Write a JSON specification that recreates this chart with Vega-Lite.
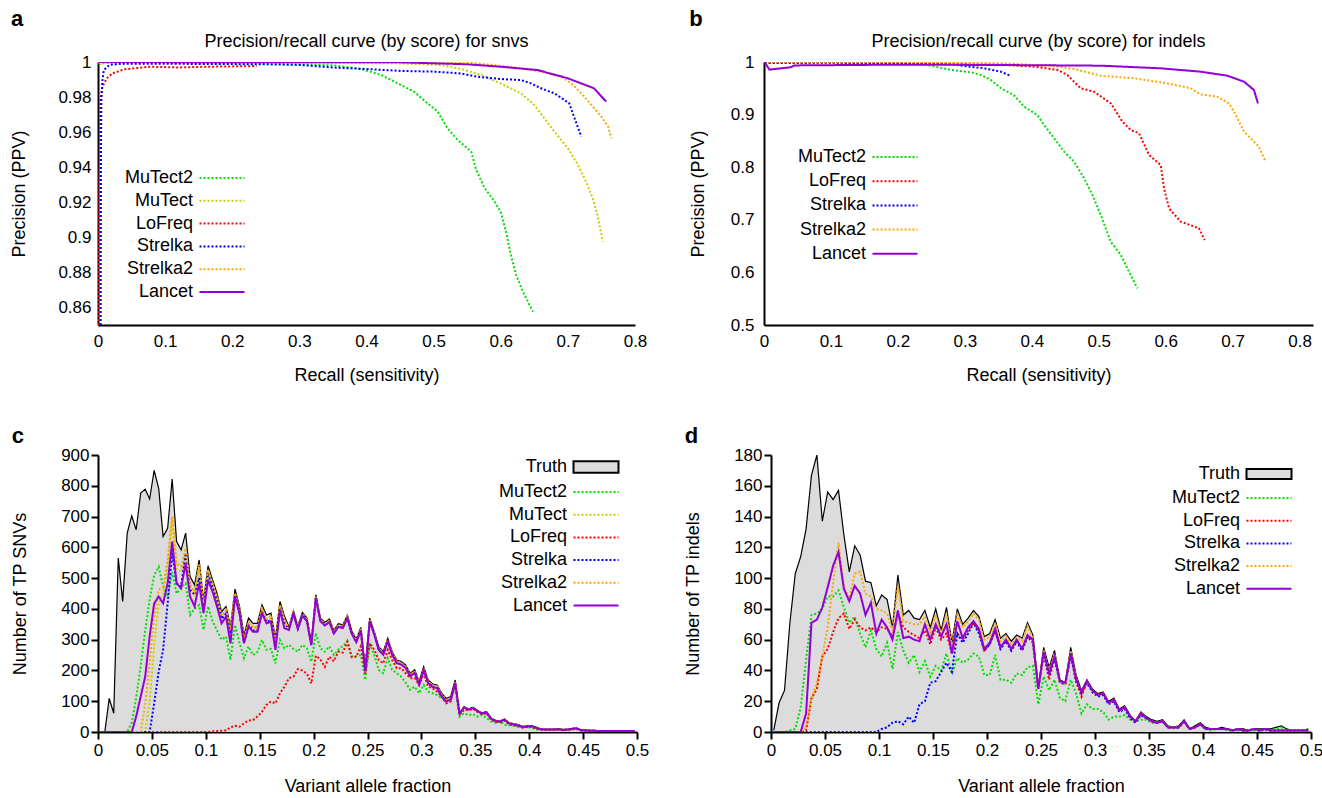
{
"$schema":"https://vega.github.io/schema/vega-lite/v6.json",
"padding":{"left":10,"top":8,"right":5,"bottom":3},
"config":{
 "font":"Liberation Sans",
 "view":{"stroke":null},
 "axis":{"grid":false,"domainColor":"black","domainWidth":2,"labelColor":"black","titleColor":"black","labelFontSize":17,"titleFontSize":18,"titleFontWeight":"normal","labelFlush":false,"labelOverlap":false,"tickColor":"black","tickWidth":2},
 "legend":{"labelFontSize":18,"labelColor":"black","padding":0},
 "title":{"fontSize":18,"fontWeight":"normal","color":"black"}
},
"datasets":{
"pra":[
{"t":"MuTect2","r":0.001,"p":0.9985},{"t":"MuTect2","r":0.01,"p":0.9994},{"t":"MuTect2","r":0.05,"p":0.9995},{"t":"MuTect2","r":0.1,"p":0.9995},{"t":"MuTect2","r":0.2,"p":0.9993},{"t":"MuTect2","r":0.3,"p":0.9987},{"t":"MuTect2","r":0.352,"p":0.998},{"t":"MuTect2","r":0.392,"p":0.996},{"t":"MuTect2","r":0.422,"p":0.9926},{"t":"MuTect2","r":0.451,"p":0.9869},{"t":"MuTect2","r":0.471,"p":0.983},{"t":"MuTect2","r":0.491,"p":0.9764},{"t":"MuTect2","r":0.506,"p":0.9717},{"t":"MuTect2","r":0.521,"p":0.962},{"t":"MuTect2","r":0.536,"p":0.9555},{"t":"MuTect2","r":0.556,"p":0.9489},{"t":"MuTect2","r":0.563,"p":0.939},{"t":"MuTect2","r":0.576,"p":0.928},{"t":"MuTect2","r":0.588,"p":0.922},{"t":"MuTect2","r":0.6,"p":0.9146},{"t":"MuTect2","r":0.608,"p":0.903},{"t":"MuTect2","r":0.615,"p":0.89},{"t":"MuTect2","r":0.623,"p":0.8785},{"t":"MuTect2","r":0.633,"p":0.869},{"t":"MuTect2","r":0.648,"p":0.8576},
{"t":"MuTect","r":0.001,"p":0.9995},{"t":"MuTect","r":0.1,"p":0.9998},{"t":"MuTect","r":0.3,"p":0.9996},{"t":"MuTect","r":0.451,"p":0.9992},{"t":"MuTect","r":0.511,"p":0.9983},{"t":"MuTect","r":0.541,"p":0.996},{"t":"MuTect","r":0.571,"p":0.9926},{"t":"MuTect","r":0.6,"p":0.9878},{"t":"MuTect","r":0.63,"p":0.9821},{"t":"MuTect","r":0.65,"p":0.9755},{"t":"MuTect","r":0.665,"p":0.9679},{"t":"MuTect","r":0.68,"p":0.9603},{"t":"MuTect","r":0.7,"p":0.9508},{"t":"MuTect","r":0.715,"p":0.9413},{"t":"MuTect","r":0.727,"p":0.9318},{"t":"MuTect","r":0.737,"p":0.9223},{"t":"MuTect","r":0.744,"p":0.9127},{"t":"MuTect","r":0.749,"p":0.9032},{"t":"MuTect","r":0.752,"p":0.8975},
{"t":"LoFreq","r":0.001,"p":0.85},{"t":"LoFreq","r":0.002,"p":0.93},{"t":"LoFreq","r":0.0036,"p":0.9783},{"t":"LoFreq","r":0.0066,"p":0.9859},{"t":"LoFreq","r":0.013,"p":0.9907},{"t":"LoFreq","r":0.0215,"p":0.9935},{"t":"LoFreq","r":0.0385,"p":0.9958},{"t":"LoFreq","r":0.077,"p":0.9973},{"t":"LoFreq","r":0.119,"p":0.9969},{"t":"LoFreq","r":0.162,"p":0.9973},{"t":"LoFreq","r":0.2365,"p":0.9977},
{"t":"Strelka","r":0.004,"p":0.85},{"t":"Strelka","r":0.0045,"p":0.95},{"t":"Strelka","r":0.005,"p":0.978},{"t":"Strelka","r":0.0066,"p":0.9897},{"t":"Strelka","r":0.0087,"p":0.9954},{"t":"Strelka","r":0.017,"p":0.9983},{"t":"Strelka","r":0.034,"p":0.999},{"t":"Strelka","r":0.1,"p":0.999},{"t":"Strelka","r":0.2,"p":0.9988},{"t":"Strelka","r":0.25,"p":0.9987},{"t":"Strelka","r":0.302,"p":0.9983},{"t":"Strelka","r":0.352,"p":0.9968},{"t":"Strelka","r":0.401,"p":0.996},{"t":"Strelka","r":0.451,"p":0.9949},{"t":"Strelka","r":0.501,"p":0.9945},{"t":"Strelka","r":0.54,"p":0.9935},{"t":"Strelka","r":0.565,"p":0.9916},{"t":"Strelka","r":0.6,"p":0.9903},{"t":"Strelka","r":0.63,"p":0.9897},{"t":"Strelka","r":0.645,"p":0.9878},{"t":"Strelka","r":0.66,"p":0.985},{"t":"Strelka","r":0.68,"p":0.9821},{"t":"Strelka","r":0.695,"p":0.9783},{"t":"Strelka","r":0.702,"p":0.9764},{"t":"Strelka","r":0.71,"p":0.9679},{"t":"Strelka","r":0.72,"p":0.9574},
{"t":"Strelka2","r":0.001,"p":1},{"t":"Strelka2","r":0.3,"p":1},{"t":"Strelka2","r":0.55,"p":0.9998},{"t":"Strelka2","r":0.625,"p":0.9968},{"t":"Strelka2","r":0.66,"p":0.9945},{"t":"Strelka2","r":0.69,"p":0.9916},{"t":"Strelka2","r":0.705,"p":0.9878},{"t":"Strelka2","r":0.72,"p":0.9821},{"t":"Strelka2","r":0.735,"p":0.9755},{"t":"Strelka2","r":0.75,"p":0.9688},{"t":"Strelka2","r":0.76,"p":0.9631},{"t":"Strelka2","r":0.765,"p":0.9565},
{"t":"Lancet","r":0.001,"p":1},{"t":"Lancet","r":0.3,"p":0.9998},{"t":"Lancet","r":0.451,"p":0.9998},{"t":"Lancet","r":0.55,"p":0.9987},{"t":"Lancet","r":0.6,"p":0.9973},{"t":"Lancet","r":0.655,"p":0.9954},{"t":"Lancet","r":0.7,"p":0.9907},{"t":"Lancet","r":0.739,"p":0.985},{"t":"Lancet","r":0.757,"p":0.9774}
],
"prb":[
{"t":"MuTect2","r":0.001,"p":0.999},{"t":"MuTect2","r":0.05,"p":0.9995},{"t":"MuTect2","r":0.1,"p":0.9995},{"t":"MuTect2","r":0.15,"p":0.9993},{"t":"MuTect2","r":0.2045,"p":0.9985},{"t":"MuTect2","r":0.239,"p":0.9956},{"t":"MuTect2","r":0.279,"p":0.985},{"t":"MuTect2","r":0.309,"p":0.9804},{"t":"MuTect2","r":0.324,"p":0.9753},{"t":"MuTect2","r":0.339,"p":0.9658},{"t":"MuTect2","r":0.354,"p":0.95},{"t":"MuTect2","r":0.373,"p":0.9373},{"t":"MuTect2","r":0.3886,"p":0.915},{"t":"MuTect2","r":0.4085,"p":0.899},{"t":"MuTect2","r":0.4184,"p":0.88},{"t":"MuTect2","r":0.4333,"p":0.855},{"t":"MuTect2","r":0.4483,"p":0.8295},{"t":"MuTect2","r":0.4632,"p":0.8105},{"t":"MuTect2","r":0.4781,"p":0.779},{"t":"MuTect2","r":0.4906,"p":0.747},{"t":"MuTect2","r":0.503,"p":0.709},{"t":"MuTect2","r":0.518,"p":0.658},{"t":"MuTect2","r":0.533,"p":0.633},{"t":"MuTect2","r":0.5453,"p":0.601},{"t":"MuTect2","r":0.5577,"p":0.5697},
{"t":"LoFreq","r":0.001,"p":1},{"t":"LoFreq","r":0.1,"p":0.9995},{"t":"LoFreq","r":0.2045,"p":0.9994},{"t":"LoFreq","r":0.3437,"p":0.9956},{"t":"LoFreq","r":0.4035,"p":0.9911},{"t":"LoFreq","r":0.4383,"p":0.985},{"t":"LoFreq","r":0.4532,"p":0.9753},{"t":"LoFreq","r":0.4731,"p":0.95},{"t":"LoFreq","r":0.493,"p":0.9436},{"t":"LoFreq","r":0.518,"p":0.9214},{"t":"LoFreq","r":0.5353,"p":0.8866},{"t":"LoFreq","r":0.5478,"p":0.8707},{"t":"LoFreq","r":0.5602,"p":0.8644},{"t":"LoFreq","r":0.5751,"p":0.8232},{"t":"LoFreq","r":0.5925,"p":0.8042},{"t":"LoFreq","r":0.5975,"p":0.7598},{"t":"LoFreq","r":0.605,"p":0.7218},{"t":"LoFreq","r":0.6224,"p":0.6965},{"t":"LoFreq","r":0.6498,"p":0.6838},{"t":"LoFreq","r":0.6582,"p":0.6616},
{"t":"Strelka","r":0.001,"p":0.998},{"t":"Strelka","r":0.1,"p":0.9985},{"t":"Strelka","r":0.2045,"p":0.9975},{"t":"Strelka","r":0.279,"p":0.9956},{"t":"Strelka","r":0.3288,"p":0.988},{"t":"Strelka","r":0.3537,"p":0.9816},{"t":"Strelka","r":0.3677,"p":0.974},
{"t":"Strelka2","r":0.001,"p":1},{"t":"Strelka2","r":0.2045,"p":1},{"t":"Strelka2","r":0.354,"p":0.9975},{"t":"Strelka2","r":0.4284,"p":0.993},{"t":"Strelka2","r":0.4632,"p":0.9867},{"t":"Strelka2","r":0.503,"p":0.974},{"t":"Strelka2","r":0.5527,"p":0.969},{"t":"Strelka2","r":0.6025,"p":0.9594},{"t":"Strelka2","r":0.6373,"p":0.95},{"t":"Strelka2","r":0.6522,"p":0.9385},{"t":"Strelka2","r":0.677,"p":0.934},{"t":"Strelka2","r":0.6945,"p":0.9214},{"t":"Strelka2","r":0.702,"p":0.9056},{"t":"Strelka2","r":0.7169,"p":0.8676},{"t":"Strelka2","r":0.7393,"p":0.839},{"t":"Strelka2","r":0.7493,"p":0.8105},
{"t":"Lancet","r":0.001,"p":1},{"t":"Lancet","r":0.008,"p":0.9855},{"t":"Lancet","r":0.04,"p":0.99},{"t":"Lancet","r":0.045,"p":0.9935},{"t":"Lancet","r":0.2045,"p":0.995},{"t":"Lancet","r":0.354,"p":0.9943},{"t":"Lancet","r":0.503,"p":0.993},{"t":"Lancet","r":0.5925,"p":0.988},{"t":"Lancet","r":0.6522,"p":0.9816},{"t":"Lancet","r":0.692,"p":0.974},{"t":"Lancet","r":0.7169,"p":0.9626},{"t":"Lancet","r":0.7318,"p":0.9468},{"t":"Lancet","r":0.7378,"p":0.9214}
],
"vafc":[
{"x":0.0021,"Truth":0,"MuTect2":0,"MuTect":0,"LoFreq":0,"Strelka":0,"Strelka2":0,"Lancet":0},
{"x":0.0063,"Truth":0,"MuTect2":0,"MuTect":0,"LoFreq":0,"Strelka":0,"Strelka2":0,"Lancet":0},
{"x":0.0104,"Truth":109,"MuTect2":0,"MuTect":0,"LoFreq":0,"Strelka":0,"Strelka2":0,"Lancet":0},
{"x":0.0146,"Truth":61,"MuTect2":0,"MuTect":0,"LoFreq":0,"Strelka":0,"Strelka2":0,"Lancet":0},
{"x":0.0188,"Truth":565,"MuTect2":0,"MuTect":0,"LoFreq":0,"Strelka":0,"Strelka2":0,"Lancet":0},
{"x":0.0229,"Truth":424,"MuTect2":0,"MuTect":0,"LoFreq":0,"Strelka":0,"Strelka2":0,"Lancet":0},
{"x":0.0271,"Truth":646,"MuTect2":0,"MuTect":0,"LoFreq":0,"Strelka":0,"Strelka2":0,"Lancet":0},
{"x":0.0313,"Truth":702,"MuTect2":30,"MuTect":0,"LoFreq":0,"Strelka":0,"Strelka2":0,"Lancet":0},
{"x":0.0354,"Truth":657,"MuTect2":110,"MuTect":0,"LoFreq":0,"Strelka":0,"Strelka2":0,"Lancet":50},
{"x":0.0396,"Truth":776,"MuTect2":215,"MuTect":0,"LoFreq":0,"Strelka":0,"Strelka2":0,"Lancet":115},
{"x":0.0438,"Truth":789,"MuTect2":330,"MuTect":0,"LoFreq":0,"Strelka":0,"Strelka2":93,"Lancet":180},
{"x":0.0479,"Truth":757,"MuTect2":430,"MuTect":100,"LoFreq":0,"Strelka":0,"Strelka2":223,"Lancet":310},
{"x":0.0521,"Truth":850,"MuTect2":510,"MuTect":280,"LoFreq":0,"Strelka":93,"Strelka2":375,"Lancet":418},
{"x":0.0563,"Truth":792,"MuTect2":537,"MuTect":420,"LoFreq":0,"Strelka":196,"Strelka2":462,"Lancet":440},
{"x":0.0604,"Truth":635,"MuTect2":473,"MuTect":450,"LoFreq":0,"Strelka":267,"Strelka2":473,"Lancet":418},
{"x":0.0646,"Truth":662,"MuTect2":440,"MuTect":540,"LoFreq":0,"Strelka":418,"Strelka2":559,"Lancet":483},
{"x":0.0688,"Truth":822,"MuTect2":520,"MuTect":690,"LoFreq":0,"Strelka":581,"Strelka2":700,"Lancet":619},
{"x":0.0729,"Truth":619,"MuTect2":450,"MuTect":530,"LoFreq":0,"Strelka":483,"Strelka2":548,"Lancet":483},
{"x":0.0771,"Truth":592,"MuTect2":470,"MuTect":520,"LoFreq":0,"Strelka":473,"Strelka2":538,"Lancet":467},
{"x":0.0813,"Truth":646,"MuTect2":483,"MuTect":590,"LoFreq":0,"Strelka":581,"Strelka2":597,"Lancet":548},
{"x":0.0854,"Truth":505,"MuTect2":380,"MuTect":470,"LoFreq":0,"Strelka":462,"Strelka2":480,"Lancet":440},
{"x":0.0896,"Truth":478,"MuTect2":400,"MuTect":450,"LoFreq":0,"Strelka":446,"Strelka2":455,"Lancet":408},
{"x":0.0938,"Truth":559,"MuTect2":412,"MuTect":535,"LoFreq":0,"Strelka":500,"Strelka2":545,"Lancet":483},
{"x":0.0979,"Truth":429,"MuTect2":332,"MuTect":410,"LoFreq":0,"Strelka":405,"Strelka2":417,"Lancet":386},
{"x":0.1021,"Truth":540,"MuTect2":408,"MuTect":525,"LoFreq":0,"Strelka":515,"Strelka2":528,"Lancet":494},
{"x":0.1063,"Truth":494,"MuTect2":360,"MuTect":479,"LoFreq":2,"Strelka":470,"Strelka2":482,"Lancet":456},
{"x":0.1104,"Truth":451,"MuTect2":330,"MuTect":436,"LoFreq":3,"Strelka":428,"Strelka2":439,"Lancet":408},
{"x":0.1146,"Truth":391,"MuTect2":300,"MuTect":376,"LoFreq":4,"Strelka":368,"Strelka2":379,"Lancet":353},
{"x":0.1188,"Truth":408,"MuTect2":310,"MuTect":393,"LoFreq":5,"Strelka":385,"Strelka2":396,"Lancet":375},
{"x":0.1229,"Truth":343,"MuTect2":234,"MuTect":328,"LoFreq":15,"Strelka":320,"Strelka2":331,"Lancet":288},
{"x":0.1271,"Truth":464,"MuTect2":348,"MuTect":449,"LoFreq":20,"Strelka":442,"Strelka2":452,"Lancet":440},
{"x":0.1313,"Truth":408,"MuTect2":290,"MuTect":393,"LoFreq":17,"Strelka":385,"Strelka2":396,"Lancet":386},
{"x":0.1354,"Truth":315,"MuTect2":240,"MuTect":300,"LoFreq":28,"Strelka":292,"Strelka2":303,"Lancet":288},
{"x":0.1396,"Truth":370,"MuTect2":278,"MuTect":355,"LoFreq":37,"Strelka":348,"Strelka2":358,"Lancet":343},
{"x":0.1438,"Truth":353,"MuTect2":250,"MuTect":338,"LoFreq":39,"Strelka":330,"Strelka2":341,"Lancet":326},
{"x":0.1479,"Truth":353,"MuTect2":260,"MuTect":338,"LoFreq":50,"Strelka":330,"Strelka2":341,"Lancet":326},
{"x":0.1521,"Truth":413,"MuTect2":299,"MuTect":398,"LoFreq":66,"Strelka":390,"Strelka2":401,"Lancet":386},
{"x":0.1563,"Truth":380,"MuTect2":267,"MuTect":365,"LoFreq":88,"Strelka":358,"Strelka2":368,"Lancet":353},
{"x":0.1604,"Truth":386,"MuTect2":270,"MuTect":371,"LoFreq":99,"Strelka":363,"Strelka2":374,"Lancet":359},
{"x":0.1646,"Truth":305,"MuTect2":223,"MuTect":290,"LoFreq":93,"Strelka":282,"Strelka2":293,"Lancet":267},
{"x":0.1688,"Truth":424,"MuTect2":299,"MuTect":409,"LoFreq":126,"Strelka":402,"Strelka2":412,"Lancet":397},
{"x":0.1729,"Truth":377,"MuTect2":272,"MuTect":362,"LoFreq":147,"Strelka":355,"Strelka2":365,"Lancet":337},
{"x":0.1771,"Truth":342,"MuTect2":283,"MuTect":335,"LoFreq":175,"Strelka":334,"Strelka2":337,"Lancet":332},
{"x":0.1813,"Truth":394,"MuTect2":270,"MuTect":387,"LoFreq":180,"Strelka":386,"Strelka2":389,"Lancet":384},
{"x":0.1854,"Truth":345,"MuTect2":261,"MuTect":338,"LoFreq":204,"Strelka":337,"Strelka2":340,"Lancet":335},
{"x":0.1896,"Truth":388,"MuTect2":283,"MuTect":381,"LoFreq":200,"Strelka":380,"Strelka2":383,"Lancet":378},
{"x":0.1938,"Truth":370,"MuTect2":272,"MuTect":363,"LoFreq":190,"Strelka":362,"Strelka2":365,"Lancet":360},
{"x":0.1979,"Truth":292,"MuTect2":228,"MuTect":285,"LoFreq":158,"Strelka":284,"Strelka2":287,"Lancet":282},
{"x":0.2021,"Truth":446,"MuTect2":321,"MuTect":439,"LoFreq":248,"Strelka":438,"Strelka2":441,"Lancet":436},
{"x":0.2063,"Truth":370,"MuTect2":272,"MuTect":363,"LoFreq":235,"Strelka":362,"Strelka2":365,"Lancet":360},
{"x":0.2104,"Truth":356,"MuTect2":261,"MuTect":349,"LoFreq":212,"Strelka":348,"Strelka2":351,"Lancet":346},
{"x":0.2146,"Truth":367,"MuTect2":278,"MuTect":360,"LoFreq":245,"Strelka":359,"Strelka2":362,"Lancet":357},
{"x":0.2188,"Truth":330,"MuTect2":250,"MuTect":323,"LoFreq":230,"Strelka":322,"Strelka2":325,"Lancet":320},
{"x":0.2229,"Truth":352,"MuTect2":267,"MuTect":345,"LoFreq":261,"Strelka":344,"Strelka2":347,"Lancet":342},
{"x":0.2271,"Truth":348,"MuTect2":280,"MuTect":341,"LoFreq":258,"Strelka":340,"Strelka2":343,"Lancet":338},
{"x":0.2313,"Truth":380,"MuTect2":294,"MuTect":373,"LoFreq":294,"Strelka":372,"Strelka2":375,"Lancet":370},
{"x":0.2354,"Truth":329,"MuTect2":245,"MuTect":322,"LoFreq":243,"Strelka":321,"Strelka2":324,"Lancet":319},
{"x":0.2396,"Truth":302,"MuTect2":245,"MuTect":295,"LoFreq":245,"Strelka":294,"Strelka2":297,"Lancet":292},
{"x":0.2438,"Truth":340,"MuTect2":250,"MuTect":333,"LoFreq":278,"Strelka":332,"Strelka2":335,"Lancet":330},
{"x":0.2479,"Truth":207,"MuTect2":169,"MuTect":200,"LoFreq":191,"Strelka":199,"Strelka2":202,"Lancet":197},
{"x":0.2521,"Truth":370,"MuTect2":288,"MuTect":363,"LoFreq":288,"Strelka":362,"Strelka2":365,"Lancet":360},
{"x":0.2563,"Truth":326,"MuTect2":250,"MuTect":319,"LoFreq":267,"Strelka":318,"Strelka2":321,"Lancet":316},
{"x":0.2604,"Truth":277,"MuTect2":202,"MuTect":270,"LoFreq":234,"Strelka":269,"Strelka2":272,"Lancet":267},
{"x":0.2646,"Truth":261,"MuTect2":191,"MuTect":254,"LoFreq":223,"Strelka":253,"Strelka2":256,"Lancet":251},
{"x":0.2688,"Truth":305,"MuTect2":240,"MuTect":298,"LoFreq":267,"Strelka":297,"Strelka2":300,"Lancet":295},
{"x":0.2729,"Truth":261,"MuTect2":202,"MuTect":254,"LoFreq":234,"Strelka":253,"Strelka2":256,"Lancet":251},
{"x":0.2771,"Truth":234,"MuTect2":191,"MuTect":227,"LoFreq":207,"Strelka":226,"Strelka2":229,"Lancet":224},
{"x":0.2813,"Truth":229,"MuTect2":180,"MuTect":222,"LoFreq":207,"Strelka":221,"Strelka2":224,"Lancet":219},
{"x":0.2854,"Truth":218,"MuTect2":160,"MuTect":211,"LoFreq":191,"Strelka":210,"Strelka2":213,"Lancet":208},
{"x":0.2896,"Truth":191,"MuTect2":137,"MuTect":184,"LoFreq":175,"Strelka":183,"Strelka2":186,"Lancet":181},
{"x":0.2938,"Truth":202,"MuTect2":147,"MuTect":195,"LoFreq":175,"Strelka":194,"Strelka2":197,"Lancet":192},
{"x":0.2979,"Truth":164,"MuTect2":126,"MuTect":157,"LoFreq":153,"Strelka":156,"Strelka2":159,"Lancet":154},
{"x":0.3021,"Truth":212,"MuTect2":153,"MuTect":205,"LoFreq":191,"Strelka":204,"Strelka2":207,"Lancet":202},
{"x":0.3063,"Truth":169,"MuTect2":131,"MuTect":162,"LoFreq":147,"Strelka":161,"Strelka2":164,"Lancet":159},
{"x":0.3104,"Truth":156,"MuTect2":126,"MuTect":149,"LoFreq":142,"Strelka":148,"Strelka2":151,"Lancet":146},
{"x":0.3146,"Truth":153,"MuTect2":120,"MuTect":146,"LoFreq":131,"Strelka":145,"Strelka2":148,"Lancet":143},
{"x":0.3188,"Truth":126,"MuTect2":110,"MuTect":119,"LoFreq":115,"Strelka":118,"Strelka2":121,"Lancet":116},
{"x":0.3229,"Truth":109,"MuTect2":104,"MuTect":102,"LoFreq":93,"Strelka":101,"Strelka2":104,"Lancet":99},
{"x":0.3271,"Truth":115,"MuTect2":104,"MuTect":108,"LoFreq":99,"Strelka":107,"Strelka2":110,"Lancet":105},
{"x":0.3313,"Truth":169,"MuTect2":147,"MuTect":162,"LoFreq":158,"Strelka":161,"Strelka2":164,"Lancet":159},
{"x":0.3354,"Truth":61,"MuTect2":50,"MuTect":59,"LoFreq":56,"Strelka":59,"Strelka2":60,"Lancet":59},
{"x":0.3396,"Truth":82,"MuTect2":61,"MuTect":80,"LoFreq":72,"Strelka":80,"Strelka2":81,"Lancet":80},
{"x":0.3438,"Truth":75,"MuTect2":55,"MuTect":73,"LoFreq":70,"Strelka":73,"Strelka2":74,"Lancet":73},
{"x":0.3479,"Truth":80,"MuTect2":58,"MuTect":78,"LoFreq":75,"Strelka":78,"Strelka2":79,"Lancet":78},
{"x":0.3521,"Truth":70,"MuTect2":50,"MuTect":68,"LoFreq":65,"Strelka":68,"Strelka2":69,"Lancet":68},
{"x":0.3563,"Truth":62,"MuTect2":55,"MuTect":60,"LoFreq":57,"Strelka":60,"Strelka2":61,"Lancet":60},
{"x":0.3604,"Truth":66,"MuTect2":45,"MuTect":64,"LoFreq":61,"Strelka":64,"Strelka2":65,"Lancet":64},
{"x":0.3646,"Truth":45,"MuTect2":34,"MuTect":43,"LoFreq":40,"Strelka":43,"Strelka2":44,"Lancet":43},
{"x":0.3688,"Truth":38,"MuTect2":30,"MuTect":36,"LoFreq":33,"Strelka":36,"Strelka2":37,"Lancet":36},
{"x":0.3729,"Truth":36,"MuTect2":35,"MuTect":34,"LoFreq":31,"Strelka":34,"Strelka2":35,"Lancet":34},
{"x":0.3771,"Truth":42,"MuTect2":23,"MuTect":40,"LoFreq":37,"Strelka":40,"Strelka2":41,"Lancet":40},
{"x":0.3813,"Truth":30,"MuTect2":22,"MuTect":28,"LoFreq":25,"Strelka":28,"Strelka2":29,"Lancet":28},
{"x":0.3854,"Truth":27,"MuTect2":20,"MuTect":25,"LoFreq":22,"Strelka":25,"Strelka2":26,"Lancet":25},
{"x":0.3896,"Truth":24,"MuTect2":17,"MuTect":22,"LoFreq":19,"Strelka":22,"Strelka2":23,"Lancet":22},
{"x":0.3938,"Truth":18,"MuTect2":17,"MuTect":16,"LoFreq":14,"Strelka":16,"Strelka2":17,"Lancet":16},
{"x":0.3979,"Truth":20,"MuTect2":16,"MuTect":18,"LoFreq":16,"Strelka":18,"Strelka2":19,"Lancet":18},
{"x":0.4021,"Truth":21,"MuTect2":14,"MuTect":19,"LoFreq":17,"Strelka":19,"Strelka2":20,"Lancet":19},
{"x":0.4063,"Truth":16,"MuTect2":8,"MuTect":14,"LoFreq":12,"Strelka":14,"Strelka2":15,"Lancet":14},
{"x":0.4104,"Truth":10,"MuTect2":7,"MuTect":9,"LoFreq":8,"Strelka":9,"Strelka2":9,"Lancet":9},
{"x":0.4146,"Truth":9,"MuTect2":6,"MuTect":8,"LoFreq":7,"Strelka":8,"Strelka2":8,"Lancet":8},
{"x":0.4188,"Truth":9,"MuTect2":7,"MuTect":8,"LoFreq":7,"Strelka":8,"Strelka2":8,"Lancet":8},
{"x":0.4229,"Truth":9,"MuTect2":7,"MuTect":8,"LoFreq":7,"Strelka":8,"Strelka2":8,"Lancet":8},
{"x":0.4271,"Truth":10,"MuTect2":9,"MuTect":9,"LoFreq":8,"Strelka":9,"Strelka2":9,"Lancet":9},
{"x":0.4313,"Truth":8,"MuTect2":7,"MuTect":7,"LoFreq":6,"Strelka":7,"Strelka2":7,"Lancet":7},
{"x":0.4354,"Truth":9,"MuTect2":5,"MuTect":8,"LoFreq":7,"Strelka":8,"Strelka2":8,"Lancet":8},
{"x":0.4396,"Truth":11,"MuTect2":8,"MuTect":10,"LoFreq":9,"Strelka":10,"Strelka2":10,"Lancet":10},
{"x":0.4438,"Truth":13,"MuTect2":9,"MuTect":12,"LoFreq":11,"Strelka":12,"Strelka2":12,"Lancet":12},
{"x":0.4479,"Truth":7,"MuTect2":5,"MuTect":6,"LoFreq":5,"Strelka":6,"Strelka2":6,"Lancet":6},
{"x":0.4521,"Truth":6,"MuTect2":4,"MuTect":5,"LoFreq":5,"Strelka":5,"Strelka2":5,"Lancet":5},
{"x":0.4563,"Truth":5,"MuTect2":3,"MuTect":4,"LoFreq":4,"Strelka":4,"Strelka2":4,"Lancet":4},
{"x":0.4604,"Truth":5,"MuTect2":3,"MuTect":4,"LoFreq":4,"Strelka":4,"Strelka2":4,"Lancet":4},
{"x":0.4646,"Truth":4,"MuTect2":3,"MuTect":3,"LoFreq":3,"Strelka":3,"Strelka2":3,"Lancet":3},
{"x":0.4688,"Truth":4,"MuTect2":2,"MuTect":3,"LoFreq":3,"Strelka":3,"Strelka2":3,"Lancet":3},
{"x":0.4729,"Truth":3,"MuTect2":3,"MuTect":3,"LoFreq":2,"Strelka":3,"Strelka2":3,"Lancet":3},
{"x":0.4771,"Truth":4,"MuTect2":2,"MuTect":3,"LoFreq":3,"Strelka":3,"Strelka2":3,"Lancet":3},
{"x":0.4813,"Truth":3,"MuTect2":3,"MuTect":3,"LoFreq":2,"Strelka":3,"Strelka2":3,"Lancet":3},
{"x":0.4854,"Truth":3,"MuTect2":3,"MuTect":3,"LoFreq":2,"Strelka":3,"Strelka2":3,"Lancet":3},
{"x":0.4896,"Truth":4,"MuTect2":2,"MuTect":3,"LoFreq":3,"Strelka":3,"Strelka2":3,"Lancet":3},
{"x":0.4938,"Truth":3,"MuTect2":2,"MuTect":3,"LoFreq":2,"Strelka":3,"Strelka2":3,"Lancet":3},
{"x":0.4979,"Truth":4,"MuTect2":2,"MuTect":3,"LoFreq":3,"Strelka":3,"Strelka2":3,"Lancet":3}
],
"vafd":[
{"x":0.0025,"Truth":1,"MuTect2":0,"LoFreq":0,"Strelka":0,"Strelka2":0,"Lancet":0},
{"x":0.0075,"Truth":19,"MuTect2":0,"LoFreq":0,"Strelka":0,"Strelka2":0,"Lancet":0},
{"x":0.0125,"Truth":27,"MuTect2":0,"LoFreq":0,"Strelka":0,"Strelka2":0,"Lancet":0},
{"x":0.0175,"Truth":71,"MuTect2":1,"LoFreq":0,"Strelka":0,"Strelka2":0,"Lancet":0},
{"x":0.0225,"Truth":103,"MuTect2":2,"LoFreq":0,"Strelka":0,"Strelka2":0,"Lancet":0},
{"x":0.0275,"Truth":114,"MuTect2":16,"LoFreq":0,"Strelka":0,"Strelka2":0,"Lancet":0},
{"x":0.0325,"Truth":132,"MuTect2":47,"LoFreq":1,"Strelka":0,"Strelka2":3,"Lancet":12},
{"x":0.0375,"Truth":167,"MuTect2":76,"LoFreq":22,"Strelka":0,"Strelka2":22,"Lancet":71},
{"x":0.0425,"Truth":180,"MuTect2":77,"LoFreq":28,"Strelka":0,"Strelka2":32,"Lancet":73},
{"x":0.0475,"Truth":137,"MuTect2":80,"LoFreq":49,"Strelka":0,"Strelka2":49,"Lancet":81},
{"x":0.0525,"Truth":156,"MuTect2":88,"LoFreq":54,"Strelka":0,"Strelka2":68,"Lancet":94},
{"x":0.0575,"Truth":151,"MuTect2":88,"LoFreq":65,"Strelka":0,"Strelka2":97,"Lancet":108},
{"x":0.0625,"Truth":157,"MuTect2":92,"LoFreq":74,"Strelka":0,"Strelka2":123,"Lancet":117},
{"x":0.0675,"Truth":128,"MuTect2":81,"LoFreq":77,"Strelka":0,"Strelka2":94,"Lancet":93},
{"x":0.0725,"Truth":104,"MuTect2":71,"LoFreq":67,"Strelka":0,"Strelka2":87,"Lancet":85},
{"x":0.0775,"Truth":121,"MuTect2":75,"LoFreq":73,"Strelka":0,"Strelka2":103,"Lancet":95},
{"x":0.0825,"Truth":115,"MuTect2":64,"LoFreq":68,"Strelka":0,"Strelka2":104,"Lancet":90},
{"x":0.0875,"Truth":98,"MuTect2":55,"LoFreq":66,"Strelka":0,"Strelka2":90,"Lancet":76},
{"x":0.0925,"Truth":97,"MuTect2":66,"LoFreq":68,"Strelka":0,"Strelka2":88,"Lancet":84},
{"x":0.0975,"Truth":82,"MuTect2":54,"LoFreq":65,"Strelka":0,"Strelka2":80,"Lancet":64},
{"x":0.1025,"Truth":89,"MuTect2":49,"LoFreq":68,"Strelka":2,"Strelka2":79,"Lancet":73},
{"x":0.1075,"Truth":86,"MuTect2":58,"LoFreq":67,"Strelka":3,"Strelka2":77,"Lancet":68},
{"x":0.1125,"Truth":68,"MuTect2":41,"LoFreq":62,"Strelka":6,"Strelka2":66,"Lancet":60},
{"x":0.1175,"Truth":102,"MuTect2":65,"LoFreq":77,"Strelka":7,"Strelka2":95,"Lancet":79},
{"x":0.1225,"Truth":76,"MuTect2":53,"LoFreq":68,"Strelka":5,"Strelka2":72,"Lancet":61},
{"x":0.1275,"Truth":79,"MuTect2":45,"LoFreq":65,"Strelka":10,"Strelka2":71,"Lancet":62},
{"x":0.1325,"Truth":74,"MuTect2":50,"LoFreq":63,"Strelka":6,"Strelka2":70,"Lancet":60},
{"x":0.1375,"Truth":73,"MuTect2":39,"LoFreq":61,"Strelka":18,"Strelka2":70,"Lancet":59},
{"x":0.1425,"Truth":79,"MuTect2":46,"LoFreq":66,"Strelka":20,"Strelka2":75,"Lancet":70},
{"x":0.1475,"Truth":68,"MuTect2":36,"LoFreq":57,"Strelka":32,"Strelka2":65,"Lancet":60},
{"x":0.1525,"Truth":80,"MuTect2":43,"LoFreq":68,"Strelka":33,"Strelka2":76,"Lancet":70},
{"x":0.1575,"Truth":66,"MuTect2":40,"LoFreq":60,"Strelka":39,"Strelka2":63,"Lancet":62},
{"x":0.1625,"Truth":81,"MuTect2":51,"LoFreq":64,"Strelka":45,"Strelka2":77,"Lancet":70},
{"x":0.1675,"Truth":58,"MuTect2":38,"LoFreq":51,"Strelka":39,"Strelka2":56,"Lancet":51},
{"x":0.1725,"Truth":80,"MuTect2":48,"LoFreq":64,"Strelka":64,"Strelka2":76,"Lancet":72},
{"x":0.1775,"Truth":70,"MuTect2":45,"LoFreq":60,"Strelka":58,"Strelka2":68,"Lancet":61},
{"x":0.1825,"Truth":74,"MuTect2":47,"LoFreq":66,"Strelka":64,"Strelka2":72,"Lancet":68},
{"x":0.1875,"Truth":79,"MuTect2":51,"LoFreq":71,"Strelka":71,"Strelka2":77,"Lancet":72},
{"x":0.1925,"Truth":75,"MuTect2":49,"LoFreq":66,"Strelka":64,"Strelka2":73,"Lancet":67},
{"x":0.1975,"Truth":62,"MuTect2":37,"LoFreq":53,"Strelka":53,"Strelka2":60,"Lancet":54},
{"x":0.2025,"Truth":64,"MuTect2":37,"LoFreq":57,"Strelka":57,"Strelka2":62,"Lancet":58},
{"x":0.2075,"Truth":73,"MuTect2":50,"LoFreq":66,"Strelka":66,"Strelka2":71,"Lancet":67},
{"x":0.2125,"Truth":61,"MuTect2":34,"LoFreq":55,"Strelka":54,"Strelka2":59,"Lancet":55},
{"x":0.2175,"Truth":64,"MuTect2":34,"LoFreq":59,"Strelka":59,"Strelka2":62,"Lancet":60},
{"x":0.2225,"Truth":59,"MuTect2":32,"LoFreq":53,"Strelka":53,"Strelka2":57,"Lancet":54},
{"x":0.2275,"Truth":63,"MuTect2":38,"LoFreq":59,"Strelka":59,"Strelka2":61,"Lancet":60},
{"x":0.2325,"Truth":61,"MuTect2":37,"LoFreq":53,"Strelka":53,"Strelka2":59,"Lancet":54},
{"x":0.2375,"Truth":71,"MuTect2":42,"LoFreq":62,"Strelka":62,"Strelka2":69,"Lancet":63},
{"x":0.2425,"Truth":63,"MuTect2":43,"LoFreq":58,"Strelka":59,"Strelka2":61,"Lancet":60},
{"x":0.2475,"Truth":29,"MuTect2":18,"LoFreq":29,"Strelka":28,"Strelka2":28,"Lancet":28},
{"x":0.2525,"Truth":55,"MuTect2":36,"LoFreq":51,"Strelka":51,"Strelka2":53,"Lancet":52},
{"x":0.2575,"Truth":42,"MuTect2":27,"LoFreq":34,"Strelka":37,"Strelka2":40,"Lancet":38},
{"x":0.2625,"Truth":53,"MuTect2":34,"LoFreq":48,"Strelka":48,"Strelka2":51,"Lancet":49},
{"x":0.2675,"Truth":34,"MuTect2":22,"LoFreq":33,"Strelka":32,"Strelka2":33,"Lancet":33},
{"x":0.2725,"Truth":32,"MuTect2":20,"LoFreq":31,"Strelka":31,"Strelka2":31,"Lancet":32},
{"x":0.2775,"Truth":55,"MuTect2":34,"LoFreq":50,"Strelka":50,"Strelka2":53,"Lancet":51},
{"x":0.2825,"Truth":37,"MuTect2":25,"LoFreq":33,"Strelka":33,"Strelka2":35,"Lancet":34},
{"x":0.2875,"Truth":27,"MuTect2":12,"LoFreq":23,"Strelka":25,"Strelka2":26,"Lancet":26},
{"x":0.2925,"Truth":34,"MuTect2":18,"LoFreq":33,"Strelka":32,"Strelka2":33,"Lancet":33},
{"x":0.2975,"Truth":28,"MuTect2":15,"LoFreq":27,"Strelka":26,"Strelka2":27,"Lancet":27},
{"x":0.3025,"Truth":25,"MuTect2":15,"LoFreq":24,"Strelka":23,"Strelka2":24,"Lancet":24},
{"x":0.3075,"Truth":26,"MuTect2":13,"LoFreq":25,"Strelka":24,"Strelka2":25,"Lancet":25},
{"x":0.3125,"Truth":20,"MuTect2":8,"LoFreq":19,"Strelka":18,"Strelka2":19,"Lancet":19},
{"x":0.3175,"Truth":22,"MuTect2":10,"LoFreq":21,"Strelka":20,"Strelka2":21,"Lancet":21},
{"x":0.3225,"Truth":15,"MuTect2":10,"LoFreq":14,"Strelka":13,"Strelka2":14,"Lancet":14},
{"x":0.3275,"Truth":17,"MuTect2":11,"LoFreq":16,"Strelka":15,"Strelka2":16,"Lancet":16},
{"x":0.3325,"Truth":11,"MuTect2":8,"LoFreq":10,"Strelka":9,"Strelka2":10,"Lancet":10},
{"x":0.3375,"Truth":7,"MuTect2":7,"LoFreq":7,"Strelka":6,"Strelka2":7,"Lancet":7},
{"x":0.3425,"Truth":13,"MuTect2":8,"LoFreq":12,"Strelka":11,"Strelka2":12,"Lancet":12},
{"x":0.3475,"Truth":10,"MuTect2":8,"LoFreq":9,"Strelka":9,"Strelka2":9,"Lancet":9},
{"x":0.3525,"Truth":8,"MuTect2":6,"LoFreq":7,"Strelka":7,"Strelka2":7,"Lancet":7},
{"x":0.3575,"Truth":7,"MuTect2":6,"LoFreq":6,"Strelka":6,"Strelka2":6,"Lancet":6},
{"x":0.3625,"Truth":8,"MuTect2":7,"LoFreq":7,"Strelka":7,"Strelka2":7,"Lancet":7},
{"x":0.3675,"Truth":4,"MuTect2":3,"LoFreq":3,"Strelka":3,"Strelka2":3,"Lancet":3},
{"x":0.3725,"Truth":3,"MuTect2":3,"LoFreq":3,"Strelka":3,"Strelka2":3,"Lancet":3},
{"x":0.3775,"Truth":4,"MuTect2":3,"LoFreq":3,"Strelka":3,"Strelka2":3,"Lancet":3},
{"x":0.3825,"Truth":8,"MuTect2":6,"LoFreq":7,"Strelka":7,"Strelka2":7,"Lancet":7},
{"x":0.3875,"Truth":2,"MuTect2":2,"LoFreq":2,"Strelka":2,"Strelka2":2,"Lancet":2},
{"x":0.3925,"Truth":4,"MuTect2":3,"LoFreq":3,"Strelka":3,"Strelka2":3,"Lancet":3},
{"x":0.3975,"Truth":6,"MuTect2":5,"LoFreq":5,"Strelka":5,"Strelka2":5,"Lancet":5},
{"x":0.4025,"Truth":3,"MuTect2":2,"LoFreq":2,"Strelka":2,"Strelka2":2,"Lancet":2},
{"x":0.4075,"Truth":2,"MuTect2":1,"LoFreq":2,"Strelka":2,"Strelka2":2,"Lancet":2},
{"x":0.4125,"Truth":2,"MuTect2":2,"LoFreq":2,"Strelka":2,"Strelka2":2,"Lancet":2},
{"x":0.4175,"Truth":3,"MuTect2":2,"LoFreq":2,"Strelka":2,"Strelka2":2,"Lancet":2},
{"x":0.4225,"Truth":2,"MuTect2":1,"LoFreq":2,"Strelka":2,"Strelka2":2,"Lancet":2},
{"x":0.4275,"Truth":1,"MuTect2":1,"LoFreq":1,"Strelka":1,"Strelka2":1,"Lancet":1},
{"x":0.4325,"Truth":2,"MuTect2":1,"LoFreq":2,"Strelka":2,"Strelka2":2,"Lancet":2},
{"x":0.4375,"Truth":2,"MuTect2":1,"LoFreq":1,"Strelka":1,"Strelka2":1,"Lancet":1},
{"x":0.4425,"Truth":1,"MuTect2":1,"LoFreq":1,"Strelka":1,"Strelka2":1,"Lancet":1},
{"x":0.4475,"Truth":2,"MuTect2":1,"LoFreq":2,"Strelka":2,"Strelka2":2,"Lancet":2},
{"x":0.4525,"Truth":2,"MuTect2":1,"LoFreq":1,"Strelka":1,"Strelka2":1,"Lancet":1},
{"x":0.4575,"Truth":2,"MuTect2":1,"LoFreq":2,"Strelka":2,"Strelka2":2,"Lancet":2},
{"x":0.4625,"Truth":2,"MuTect2":1,"LoFreq":1,"Strelka":1,"Strelka2":1,"Lancet":1},
{"x":0.4675,"Truth":3,"MuTect2":2,"LoFreq":1,"Strelka":1,"Strelka2":1,"Lancet":1},
{"x":0.4725,"Truth":4,"MuTect2":3,"LoFreq":1,"Strelka":1,"Strelka2":1,"Lancet":1},
{"x":0.4775,"Truth":2,"MuTect2":1,"LoFreq":1,"Strelka":1,"Strelka2":1,"Lancet":1},
{"x":0.4825,"Truth":1,"MuTect2":1,"LoFreq":1,"Strelka":1,"Strelka2":1,"Lancet":1},
{"x":0.4875,"Truth":1,"MuTect2":1,"LoFreq":1,"Strelka":1,"Strelka2":1,"Lancet":1},
{"x":0.4925,"Truth":1,"MuTect2":1,"LoFreq":1,"Strelka":1,"Strelka2":1,"Lancet":1},
{"x":0.4975,"Truth":2,"MuTect2":1,"LoFreq":1,"Strelka":1,"Strelka2":1,"Lancet":1}
]
},
"resolve":{"scale":{"x":"independent","y":"independent","stroke":"independent","strokeDash":"independent","fill":"independent"},"legend":{"stroke":"independent","strokeDash":"independent","fill":"independent"}},
"spacing":41,
"vconcat":[
{"hconcat":[
 {"title":{"text":"a","anchor":"start","frame":"bounds","fontSize":22,"fontWeight":"bold","offset":2},
  "vconcat":[{
   "width":537,"height":263,
   "title":{"text":"Precision/recall curve (by score) for snvs","frame":"group","anchor":"middle","offset":2},
   "data":{"name":"pra"},
   "mark":{"type":"line","strokeWidth":2,"clip":true},
   "encoding":{
    "x":{"field":"r","type":"quantitative","scale":{"domain":[0,0.8],"nice":false,"zero":false},"axis":{"title":"Recall (sensitivity)","values":[0,0.1,0.2,0.3,0.4,0.5,0.6,0.7,0.8],"format":".2~f","tickSize":0,"labelPadding":8,"titlePadding":17}},
    "y":{"field":"p","type":"quantitative","scale":{"domain":[0.85,1],"nice":false,"zero":false},"axis":{"title":"Precision (PPV)","values":[0.86,0.88,0.9,0.92,0.94,0.96,0.98,1],"format":".2~f","tickSize":0,"labelPadding":7,"titlePadding":29}},
    "stroke":{"field":"t","type":"nominal","scale":{"domain":["MuTect2","MuTect","LoFreq","Strelka","Strelka2","Lancet"],"range":["#00e000","#cccc00","#ff0000","#0000ff","#ffa500","#9400d3"]},
      "legend":{"orient":"none","legendX":18,"legendY":107,"title":null,"symbolType":"M-5,0H5","symbolSize":81,"symbolStrokeWidth":2,"rowPadding":4.8,"labelFontSize":18,"labelAlign":"right","symbolOffset":97,"labelOffset":-38,"padding":0}},
    "strokeDash":{"field":"t","type":"nominal","scale":{"domain":["MuTect2","MuTect","LoFreq","Strelka","Strelka2","Lancet"],"range":[[2,2],[2,2],[2,2],[2,2],[2,2],[1,0]]},
      "legend":{"orient":"none","legendX":18,"legendY":107,"title":null,"symbolType":"M-5,0H5","symbolSize":81,"symbolStrokeWidth":2,"rowPadding":4.8,"labelFontSize":18,"labelAlign":"right","symbolOffset":97,"labelOffset":-38,"padding":0}}
   }
  }]
 },
 {"title":{"text":"b","anchor":"start","frame":"bounds","fontSize":22,"fontWeight":"bold","offset":2},
  "vconcat":[{
   "width":549,"height":263,
   "title":{"text":"Precision/recall curve (by score) for indels","frame":"group","anchor":"middle","offset":2},
   "data":{"name":"prb"},
   "mark":{"type":"line","strokeWidth":2,"clip":true},
   "encoding":{
    "x":{"field":"r","type":"quantitative","scale":{"domain":[0,0.82],"nice":false,"zero":false},"axis":{"title":"Recall (sensitivity)","values":[0,0.1,0.2,0.3,0.4,0.5,0.6,0.7,0.8],"format":".2~f","tickSize":0,"labelPadding":8,"titlePadding":17}},
    "y":{"field":"p","type":"quantitative","scale":{"domain":[0.5,1],"nice":false,"zero":false},"axis":{"title":"Precision (PPV)","values":[0.5,0.6,0.7,0.8,0.9,1],"format":".2~f","tickSize":0,"labelPadding":10,"titlePadding":23}},
    "stroke":{"field":"t","type":"nominal","scale":{"domain":["MuTect2","LoFreq","Strelka","Strelka2","Lancet"],"range":["#00e000","#ff0000","#0000ff","#ffa500","#9400d3"]},
      "legend":{"orient":"none","legendX":25,"legendY":86,"title":null,"symbolType":"M-5,0H5","symbolSize":81,"symbolStrokeWidth":2,"rowPadding":6.2,"labelFontSize":18,"labelAlign":"right","symbolOffset":97,"labelOffset":-38,"padding":0}},
    "strokeDash":{"field":"t","type":"nominal","scale":{"domain":["MuTect2","LoFreq","Strelka","Strelka2","Lancet"],"range":[[2,2],[2,2],[2,2],[2,2],[1,0]]},
      "legend":{"orient":"none","legendX":25,"legendY":86,"title":null,"symbolType":"M-5,0H5","symbolSize":81,"symbolStrokeWidth":2,"rowPadding":6.2,"labelFontSize":18,"labelAlign":"right","symbolOffset":97,"labelOffset":-38,"padding":0}}
   }
  }]
 }
],"spacing":42,
"resolve":{"scale":{"x":"independent","y":"independent","stroke":"independent","strokeDash":"independent","fill":"independent"},"legend":{"stroke":"independent","strokeDash":"independent","fill":"independent"}}},
{"hconcat":[
 {"title":{"text":"c","anchor":"start","frame":"bounds","fontSize":22,"fontWeight":"bold","offset":-2},
  "width":539,"height":277,
  "data":{"name":"vafc"},
  "encoding":{"x":{"field":"x","type":"quantitative","scale":{"domain":[0,0.5],"nice":false,"zero":false},"axis":{"title":"Variant allele fraction","values":[0,0.05,0.1,0.15,0.2,0.25,0.3,0.35,0.4,0.45,0.5],"format":".2~f","tickSize":7,"labelPadding":3,"titlePadding":19}}},
  "layer":[
   {"mark":{"type":"area","clip":true},
    "encoding":{"y":{"field":"Truth","type":"quantitative","scale":{"domain":[0,900],"nice":false},"axis":{"title":"Number of TP SNVs","values":[0,100,200,300,400,500,600,700,800,900],"tickSize":7,"labelPadding":2,"titlePadding":31}},
     "fill":{"datum":"Truth","type":"nominal","scale":{"range":["#dcdcdc"]},"legend":{"orient":"none","legendX":392,"legendY":3,"title":null,"symbolType":"M-5,-1.3H5V1.3H-5Z","symbolSize":81,"symbolStrokeColor":"black","symbolStrokeWidth":2,"labelFontSize":18,"labelAlign":"right","symbolOffset":97,"labelOffset":-38,"padding":0,"encode":{"symbols":{"update":{"stroke":{"value":"black"},"strokeWidth":{"value":2}}}}}}}},
   {"mark":{"type":"line","color":"black","strokeWidth":1.2,"clip":true},
    "encoding":{"y":{"field":"Truth","type":"quantitative","axis":{"title":"Number of TP SNVs","values":[0,100,200,300,400,500,600,700,800,900],"tickSize":7,"labelPadding":2,"titlePadding":31}}}},
   {"transform":[{"fold":["MuTect2","MuTect","LoFreq","Strelka","Strelka2","Lancet"],"as":["tool","n"]}],
    "mark":{"type":"line","strokeWidth":2,"clip":true},
    "encoding":{"y":{"field":"n","type":"quantitative","axis":{"title":"Number of TP SNVs","values":[0,100,200,300,400,500,600,700,800,900],"tickSize":7,"labelPadding":2,"titlePadding":31}},
     "stroke":{"field":"tool","type":"nominal","scale":{"domain":["MuTect2","MuTect","LoFreq","Strelka","Strelka2","Lancet"],"range":["#00e000","#cccc00","#ff0000","#0000ff","#ffa500","#9400d3"]},
      "legend":{"orient":"none","legendX":392,"legendY":28,"title":null,"symbolType":"M-5,0H5","symbolSize":81,"symbolStrokeWidth":2,"rowPadding":4.7,"labelFontSize":18,"labelAlign":"right","symbolOffset":97,"labelOffset":-38,"padding":0}},
     "strokeDash":{"field":"tool","type":"nominal","scale":{"domain":["MuTect2","MuTect","LoFreq","Strelka","Strelka2","Lancet"],"range":[[2,2],[2,2],[2,2],[2,2],[2,2],[1,0]]},
      "legend":{"orient":"none","legendX":392,"legendY":28,"title":null,"symbolType":"M-5,0H5","symbolSize":81,"symbolStrokeWidth":2,"rowPadding":4.7,"labelFontSize":18,"labelAlign":"right","symbolOffset":97,"labelOffset":-38,"padding":0}}}}
  ]
 },
 {"title":{"text":"d","anchor":"start","frame":"bounds","fontSize":22,"fontWeight":"bold","offset":-2},
  "width":540,"height":277,
  "data":{"name":"vafd"},
  "encoding":{"x":{"field":"x","type":"quantitative","scale":{"domain":[0,0.5],"nice":false,"zero":false},"axis":{"title":"Variant allele fraction","values":[0,0.05,0.1,0.15,0.2,0.25,0.3,0.35,0.4,0.45,0.5],"format":".2~f","tickSize":7,"labelPadding":3,"titlePadding":19}}},
  "layer":[
   {"mark":{"type":"area","clip":true},
    "encoding":{"y":{"field":"Truth","type":"quantitative","scale":{"domain":[0,180],"nice":false},"axis":{"title":"Number of TP indels","values":[0,20,40,60,80,100,120,140,160,180],"tickSize":7,"labelPadding":2,"titlePadding":31}},
     "fill":{"datum":"Truth","type":"nominal","scale":{"range":["#dcdcdc"]},"legend":{"orient":"none","legendX":392,"legendY":10,"title":null,"symbolType":"M-5,-1.1H5V1.1H-5Z","symbolSize":81,"symbolStrokeColor":"black","symbolStrokeWidth":2,"labelFontSize":18,"labelAlign":"right","symbolOffset":97,"labelOffset":-38,"padding":0,"encode":{"symbols":{"update":{"stroke":{"value":"black"},"strokeWidth":{"value":2}}}}}}}},
   {"mark":{"type":"line","color":"black","strokeWidth":1.2,"clip":true},
    "encoding":{"y":{"field":"Truth","type":"quantitative","axis":{"title":"Number of TP indels","values":[0,20,40,60,80,100,120,140,160,180],"tickSize":7,"labelPadding":2,"titlePadding":31}}}},
   {"transform":[{"fold":["MuTect2","LoFreq","Strelka","Strelka2","Lancet"],"as":["tool","n"]}],
    "mark":{"type":"line","strokeWidth":2,"clip":true},
    "encoding":{"y":{"field":"n","type":"quantitative","axis":{"title":"Number of TP indels","values":[0,20,40,60,80,100,120,140,160,180],"tickSize":7,"labelPadding":2,"titlePadding":31}},
     "stroke":{"field":"tool","type":"nominal","scale":{"domain":["MuTect2","LoFreq","Strelka","Strelka2","Lancet"],"range":["#00e000","#ff0000","#0000ff","#ffa500","#9400d3"]},
      "legend":{"orient":"none","legendX":392,"legendY":34,"title":null,"symbolType":"M-5,0H5","symbolSize":81,"symbolStrokeWidth":2,"rowPadding":4.7,"labelFontSize":18,"labelAlign":"right","symbolOffset":97,"labelOffset":-38,"padding":0}},
     "strokeDash":{"field":"tool","type":"nominal","scale":{"domain":["MuTect2","LoFreq","Strelka","Strelka2","Lancet"],"range":[[2,2],[2,2],[2,2],[2,2],[1,0]]},
      "legend":{"orient":"none","legendX":392,"legendY":34,"title":null,"symbolType":"M-5,0H5","symbolSize":81,"symbolStrokeWidth":2,"rowPadding":4.7,"labelFontSize":18,"labelAlign":"right","symbolOffset":97,"labelOffset":-38,"padding":0}}}}
  ]
 }
],"spacing":35,
"resolve":{"scale":{"x":"independent","y":"independent","stroke":"independent","strokeDash":"independent","fill":"independent"},"legend":{"stroke":"independent","strokeDash":"independent","fill":"independent"}}}
]
}
